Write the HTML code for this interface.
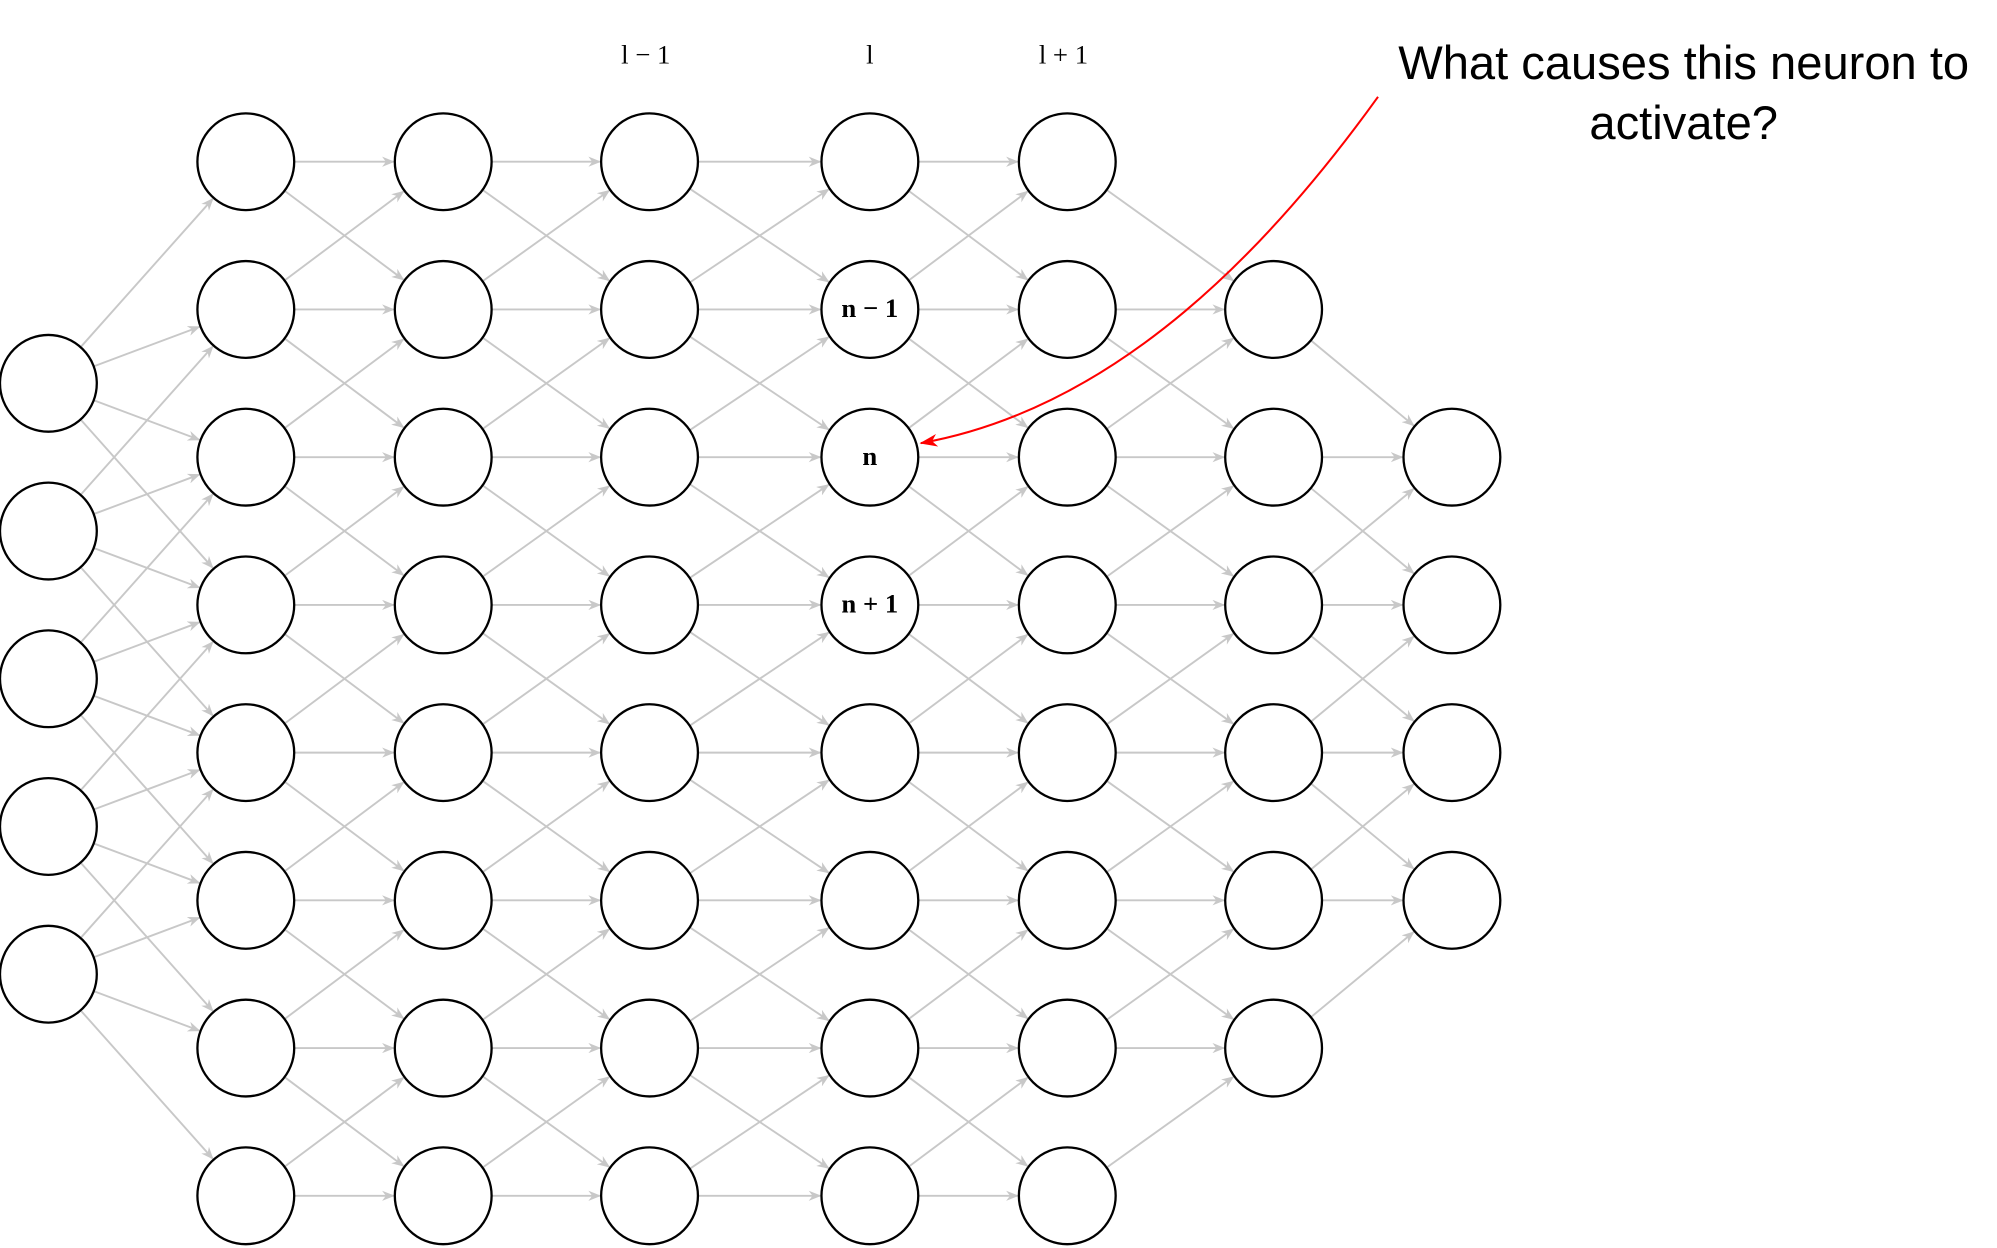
<!DOCTYPE html>
<html><head><meta charset="utf-8"><style>html,body{margin:0;padding:0;background:#fff}svg{display:block}</style></head>
<body>
<svg id="s" width="1997" height="1248" viewBox="0 0 1568 980" preserveAspectRatio="none" xmlns="http://www.w3.org/2000/svg">
<defs>
<marker id="ag" markerWidth="10" markerHeight="8" refX="9" refY="4" orient="auto" markerUnits="userSpaceOnUse"><path d="M0,0 L10,4 L0,8 L3,4 z" fill="#c8c8c8"/></marker>
<marker id="ar" markerWidth="14" markerHeight="10" refX="13" refY="5" orient="auto" markerUnits="userSpaceOnUse"><path d="M0,0 L14,5 L0,10 L4,5 z" fill="#ff0000"/></marker>
</defs>
<g id="edges" stroke="#c8c8c8" stroke-width="1.5" fill="none"></g>
<g id="nodes" stroke="#000" stroke-width="1.8" fill="#fff"></g>
<g font-family="Liberation Serif, serif" font-size="21" text-anchor="middle" fill="#000">
<text x="507" y="50">l − 1</text>
<text x="683" y="50">l</text>
<text x="835" y="50">l + 1</text>
<text x="683" y="249" font-weight="600">n − 1</text>
<text x="683" y="365" font-weight="600">n</text>
<text x="683" y="481" font-weight="600">n + 1</text>
</g>
<g font-family="Liberation Sans, sans-serif" font-size="37" text-anchor="middle" fill="#000">
<text x="1322" y="62">What causes this neuron to</text>
<text x="1322" y="109">activate?</text>
</g>
<path d="M1082,76 C1000,190 880,320 723,348" stroke="#ff0000" stroke-width="1.6" fill="none" marker-end="url(#ar)"/>
</svg>
<script>
var R=38;
var cols=[
 [38,[301,417,533,649,765]],
 [193,[127,243,359,475,591,707,823,939]],
 [348,[127,243,359,475,591,707,823,939]],
 [510,[127,243,359,475,591,707,823,939]],
 [683,[127,243,359,475,591,707,823,939]],
 [838,[127,243,359,475,591,707,823,939]],
 [1000,[243,359,475,591,707,823]],
 [1140,[359,475,591,707]]
];
var ns="http://www.w3.org/2000/svg";
var E=document.getElementById('edges'),N=document.getElementById('nodes');
for(var c=0;c<cols.length-1;c++){
 var x1=cols[c][0],x2=cols[c+1][0];
 var lim=(c==0)?200:130;
 cols[c][1].forEach(function(y1){
  cols[c+1][1].forEach(function(y2){
   if(Math.abs(y2-y1)>lim)return;
   var dx=x2-x1,dy=y2-y1,L=Math.sqrt(dx*dx+dy*dy),ux=dx/L,uy=dy/L;
   var l=document.createElementNS(ns,'line');
   l.setAttribute('x1',x1+ux*R);l.setAttribute('y1',y1+uy*R);
   l.setAttribute('x2',x2-ux*(R+1));l.setAttribute('y2',y2-uy*(R+1));
   l.setAttribute('marker-end','url(#ag)');
   E.appendChild(l);
  });
 });
}
cols.forEach(function(col){col[1].forEach(function(y){
 var e=document.createElementNS(ns,'circle');
 e.setAttribute('cx',col[0]);e.setAttribute('cy',y);e.setAttribute('r',R);N.appendChild(e);
});});
</script>
</body></html>
